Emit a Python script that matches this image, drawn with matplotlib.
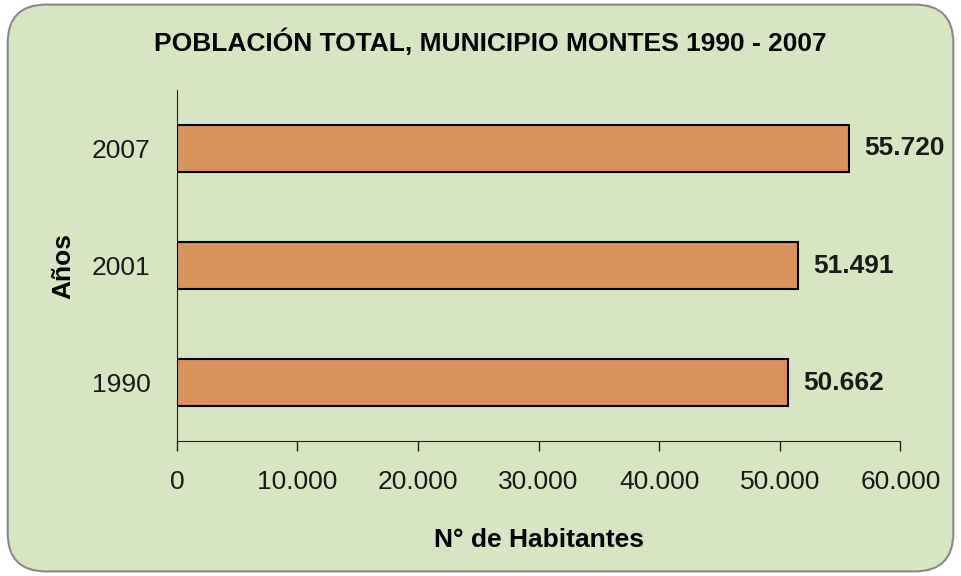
import matplotlib.pyplot as plt
from matplotlib.patches import FancyBboxPatch
from matplotlib.ticker import FuncFormatter

plt.rcParams['font.family'] = ['Liberation Sans', 'DejaVu Sans']

years = ['1990', '2001', '2007']
population = [50662, 51491, 55720]
x_ticks = [0, 10000, 20000, 30000, 40000, 50000, 60000]


def miles(v):
    # thousands separator with a dot
    return f'{int(round(v)):,}'.replace(',', '.')


fig = plt.figure(figsize=(9.61, 5.76), dpi=100)
fig.patch.set_facecolor('white')

# rounded green panel behind the chart
panel = FancyBboxPatch((0.008, 0.008), 0.984, 0.984,
                       boxstyle='round,pad=0,rounding_size=0.04',
                       transform=fig.transFigure, facecolor='#d8e5c3',
                       edgecolor='#8a8a8a', linewidth=1.5, zorder=-1,
                       mutation_aspect=961 / 576)
fig.patches.append(panel)

ax = fig.add_axes([0.184, 0.234, 0.753, 0.61])
ax.set_facecolor('none')

bars = ax.barh(years, population, height=0.4, color='#d8925b',
               edgecolor='black', linewidth=1.5, zorder=3)

for bar, v in zip(bars, population):
    ax.text(bar.get_width() + 1300, bar.get_y() + bar.get_height() / 2,
            miles(v), ha='left', va='center', fontsize=19,
            fontweight='bold', color='#1a1a1a')

ax.set_xlim(0, 60000)
ax.set_ylim(-0.5, 2.5)
ax.set_xticks(x_ticks)
ax.xaxis.set_major_formatter(FuncFormatter(lambda v, p: miles(v)))

for side in ('top', 'right'):
    ax.spines[side].set_visible(False)
ax.spines['left'].set_color('#222222')
ax.spines['bottom'].set_color('#222222')

ax.tick_params(axis='x', direction='out', length=7, width=1, labelsize=19,
               pad=14, colors='#222222', labelcolor='#1a1a1a')
ax.tick_params(axis='y', length=0, labelsize=19, pad=19, labelcolor='#1a1a1a')

ax.set_xlabel('N° de Habitantes', fontsize=19, fontweight='bold', labelpad=24)
ax.set_ylabel('Años', fontsize=19, fontweight='bold', labelpad=12)

fig.text(0.51, 0.927, 'POBLACIÓN TOTAL, MUNICIPIO MONTES 1990 - 2007',
         ha='center', va='center', fontsize=19, fontweight='bold')

fig.savefig('out.png', dpi=100)
